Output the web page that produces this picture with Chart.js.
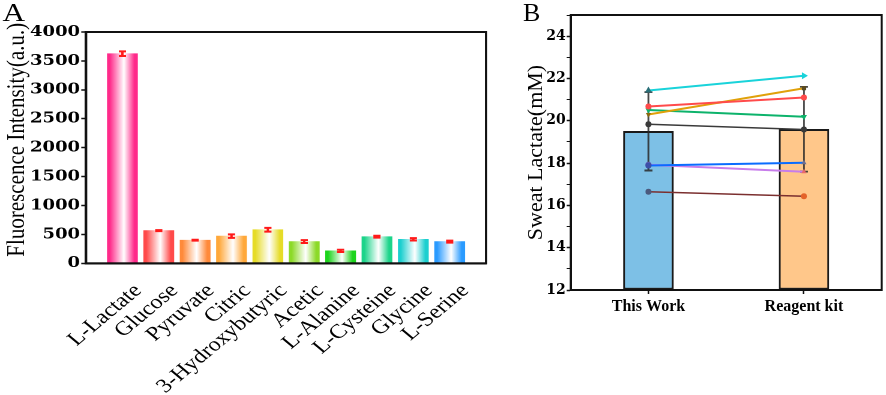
<!DOCTYPE html>
<html>
<head>
<meta charset="utf-8">
<script src="https://cdn.jsdelivr.net/npm/chart.js@4/dist/chart.umd.min.js"></script>
<style>
  html, body { margin: 0; padding: 0; background: #fff; overflow: hidden; }
  #wrapA { position: absolute; left: 0; top: 0; width: 430px; height: 395px; transform: scaleX(1.2); transform-origin: 0 0; }
  #wrapB { position: absolute; left: 515px; top: 0; width: 371px; height: 395px; }
  .panel { position: absolute; top: 0; font-family: "Liberation Serif", serif; font-size: 26px; line-height: 26px; color: #000; }
</style>
</head>
<body>
<div id="wrapA">
  <canvas id="chartA"></canvas>
  <div class="panel" style="left:2px;">A</div>
</div>
<div id="wrapB">
  <canvas id="chartB"></canvas>
  <div class="panel" style="left:8px;">B</div>
</div>
<script>
// ---------------- Panel A data ----------------
const A_CATEGORIES = ['L-Lactate', 'Glucose', 'Pyruvate', 'Citric', '3-Hydroxybutyric',
                      'Acetic', 'L-Alanine', 'L-Cysteine', 'Glycine', 'L-Serine'];
const A_VALUES = [3625, 565, 400, 470, 580, 375, 215, 460, 415, 375];
const A_ERRORS = [40, 8, 8, 30, 32, 25, 20, 17, 20, 17];
const A_COLORS = ['#FF2A8A', '#FF4A4A', '#FF8A3A', '#FFA83A', '#E6DC28',
                  '#8CDA28', '#1CD41C', '#1CD48A', '#1CCFCF', '#2A9BFF'];
const A_Y_MIN = 0, A_Y_MAX = 4000, A_Y_STEP = 500;

// ---------------- Panel B data ----------------
const B_GROUPS = ['This Work', 'Reagent kit'];
const B_MEANS = [19.5, 19.6];
const B_ERRORS = [1.85, 2.0];
const B_BAR_COLORS = ['#7DC0E6', '#FFC78A'];
const B_Y_MIN = 12, B_Y_MAX = 25;

// one pair per subject: [This Work, Reagent kit]
const SUBJ_CYAN   = [21.43, 22.13];
const SUBJ_RED    = [20.67, 21.10];
const SUBJ_GOLD   = [20.30, 21.54];
const SUBJ_GREEN  = [20.51, 20.19];
const SUBJ_BLACK  = [19.84, 19.59];
const SUBJ_BLUE   = [17.88, 18.02];
const SUBJ_PURPLE = [17.92, 17.59];
const SUBJ_BROWN  = [16.64, 16.43];

const serif = 'Liberation Serif';
const tickFont = { family: 'DejaVu Serif', weight: 'bold', size: 14 };

// box around the plot area
const frame = {
  id: 'frame',
  afterDraw(chart) {
    const { ctx, chartArea: a } = chart;
    ctx.save();
    ctx.strokeStyle = '#111';
    ctx.lineWidth = 2;
    ctx.strokeRect(a.left, a.top, a.right - a.left, a.bottom - a.top);
    ctx.restore();
  }
};

// ---------------- Chart A ----------------
const errA = {
  id: 'errA',
  afterDatasetsDraw(chart) {
    const { ctx, scales: { x, y } } = chart;
    ctx.save();
    ctx.strokeStyle = '#FF1A1A';
    ctx.lineWidth = 2;
    A_VALUES.forEach((v, i) => {
      const px = x.getPixelForValue(i + 1);
      const t = y.getPixelForValue(v + A_ERRORS[i]);
      const b = y.getPixelForValue(v - A_ERRORS[i]);
      ctx.beginPath();
      ctx.moveTo(px, t); ctx.lineTo(px, b);
      ctx.moveTo(px - 3, t); ctx.lineTo(px + 3, t);
      ctx.moveTo(px - 3, b); ctx.lineTo(px + 3, b);
      ctx.stroke();
    });
    ctx.restore();
  }
};

function barGradient(c) {
  if (c.type !== 'data') return '#fff';
  const chart = c.chart;
  if (!chart.chartArea) return '#fff';
  const col = A_COLORS[c.dataIndex - 1];
  if (!col) return 'rgba(0,0,0,0)';
  const px = chart.scales.x.getPixelForValue(c.dataIndex);
  const g = chart.ctx.createLinearGradient(px - 12.5, 0, px + 12.5, 0);
  g.addColorStop(0, col);
  g.addColorStop(0.08, col);
  g.addColorStop(0.55, '#ffffff');
  g.addColorStop(0.9, col);
  g.addColorStop(1, col);
  return g;
}

new Chart(document.getElementById('chartA'), {
  type: 'bar',
  data: {
    labels: ['', ...A_CATEGORIES, ''],
    datasets: [{
      data: [null, ...A_VALUES, null],
      backgroundColor: barGradient,
      borderWidth: 0,
      barThickness: 25
    }]
  },
  options: {
    responsive: true,
    maintainAspectRatio: false,
    animation: false,
    devicePixelRatio: 2,
    layout: { padding: { top: 32, right: 21, bottom: 0, left: 0 } },
    plugins: { legend: { display: false }, tooltip: { enabled: false } },
    scales: {
      x: {
        offset: false,
        grid: { display: false },
        border: { color: '#111', width: 2 },
        ticks: {
          autoSkip: false, minRotation: 45, maxRotation: 45,
          font: { family: serif, size: 20 }, color: '#000', padding: 8, labelOffset: 13
        },
        afterFit(s) { s.height = 131.7; }
      },
      y: {
        min: A_Y_MIN, max: A_Y_MAX,
        grid: { drawOnChartArea: false, tickLength: 4, tickColor: '#111', tickWidth: 1.5 },
        border: { color: '#111', width: 2 },
        ticks: {
          stepSize: A_Y_STEP, font: { family: 'DejaVu Serif', weight: 'bold', size: 15 },
          color: '#000', padding: 1, callback: (v) => String(v)
        },
        title: {
          display: true, text: '   Fluorescence Intensity(a.u.)',
          font: { family: serif, size: 21 }, color: '#000', padding: { top: 2, bottom: 0 }
        },
        afterFit(s) { s.width = 71.7; }
      }
    }
  },
  plugins: [errA, frame]
});

// ---------------- Chart B ----------------
const errB = {
  id: 'errB',
  afterDatasetDraw(chart, args) {
    if (args.index !== 0) return;
    const { ctx, scales: { x, y } } = chart;
    ctx.save();
    ctx.strokeStyle = 'rgba(40,40,40,0.85)';
    ctx.lineWidth = 1.8;
    B_MEANS.forEach((m, i) => {
      const px = x.getPixelForValue(i);
      const t = y.getPixelForValue(m + B_ERRORS[i]);
      const b = y.getPixelForValue(m - B_ERRORS[i]);
      ctx.beginPath();
      ctx.moveTo(px, t); ctx.lineTo(px, b);
      ctx.moveTo(px - 4, t); ctx.lineTo(px + 4, t);
      ctx.moveTo(px - 4, b); ctx.lineTo(px + 4, b);
      ctx.stroke();
    });
    ctx.restore();
  }
};

function subject(data, color, opts) {
  return Object.assign({
    type: 'line',
    data: data,
    borderColor: color,
    borderWidth: 2,
    pointRadius: 3,
    pointBorderWidth: 0,
    pointBackgroundColor: color,
    order: 1
  }, opts || {});
}

new Chart(document.getElementById('chartB'), {
  type: 'bar',
  data: {
    labels: B_GROUPS,
    datasets: [
      {
        type: 'bar',
        data: B_MEANS,
        backgroundColor: B_BAR_COLORS,
        borderColor: '#1A1A1A',
        borderWidth: 2,
        borderSkipped: false,
        barThickness: 50,
        base: B_Y_MIN,
        order: 10
      },
      subject(SUBJ_CYAN, '#19D3DA', { pointStyle: ['triangle', 'triangle'], pointRotation: [0, 90], pointRadius: 4,
                                      pointBackgroundColor: ['#2A6F78', '#19D3DA'] }),
      subject(SUBJ_RED, '#FF4B4B'),
      subject(SUBJ_GOLD, '#E0A10A', { pointStyle: ['triangle', 'rect'], pointRotation: [180, 0],
                                      pointBackgroundColor: ['#8A6A10', '#5A4A20'] }),
      subject(SUBJ_GREEN, '#0DB36B', { pointStyle: ['triangle', 'triangle'], pointRotation: [180, 180], pointRadius: 3.5 }),
      subject(SUBJ_BLACK, '#3A3A3A', { borderWidth: 1.5 }),
      subject(SUBJ_BLUE, '#0A6CFF', { pointBackgroundColor: ['#3C4FA8', '#6E6E90'],
                                      pointStyle: ['circle', 'triangle'] }),
      subject(SUBJ_PURPLE, '#C77DEB', { pointBackgroundColor: ['#6A5AB0', '#E86A6A'],
                                        pointStyle: ['circle', 'triangle'] }),
      subject(SUBJ_BROWN, '#7B2F2F', { borderWidth: 1.5, pointBackgroundColor: ['#4B5A7E', '#E4632A'] })
    ]
  },
  options: {
    responsive: true,
    maintainAspectRatio: false,
    animation: false,
    layout: { padding: { top: 15, right: 4.3, bottom: 0, left: 0 } },
    plugins: { legend: { display: false }, tooltip: { enabled: false } },
    scales: {
      x: {
        grid: { drawOnChartArea: false, tickLength: 4, tickColor: '#111', tickWidth: 1.5, offset: false },
        border: { color: '#111', width: 2 },
        ticks: { font: { family: serif, weight: 'bold', size: 16 }, color: '#000', padding: 3 },
        afterFit(s) { s.height = 105; }
      },
      y: {
        min: B_Y_MIN, max: B_Y_MAX,
        grid: {
          drawOnChartArea: false, tickLength: 4, tickColor: '#111',
          tickWidth: (c) => (c.tick && c.tick.value % 2 === 0 ? 1.5 : 1)
        },
        border: { color: '#111', width: 2 },
        ticks: {
          stepSize: 1, font: tickFont, color: '#000', padding: 1,
          callback: (v) => (v % 2 === 0 && v < B_Y_MAX ? v : '')
        },
        title: {
          display: true, text: 'Sweat Lactate(mM)',
          font: { family: serif, size: 22 }, color: '#000', padding: { top: 8, bottom: 0 }
        },
        afterFit(s) { s.width = 55.7; }
      }
    }
  },
  plugins: [errB, frame]
});
</script>
</body>
</html>
